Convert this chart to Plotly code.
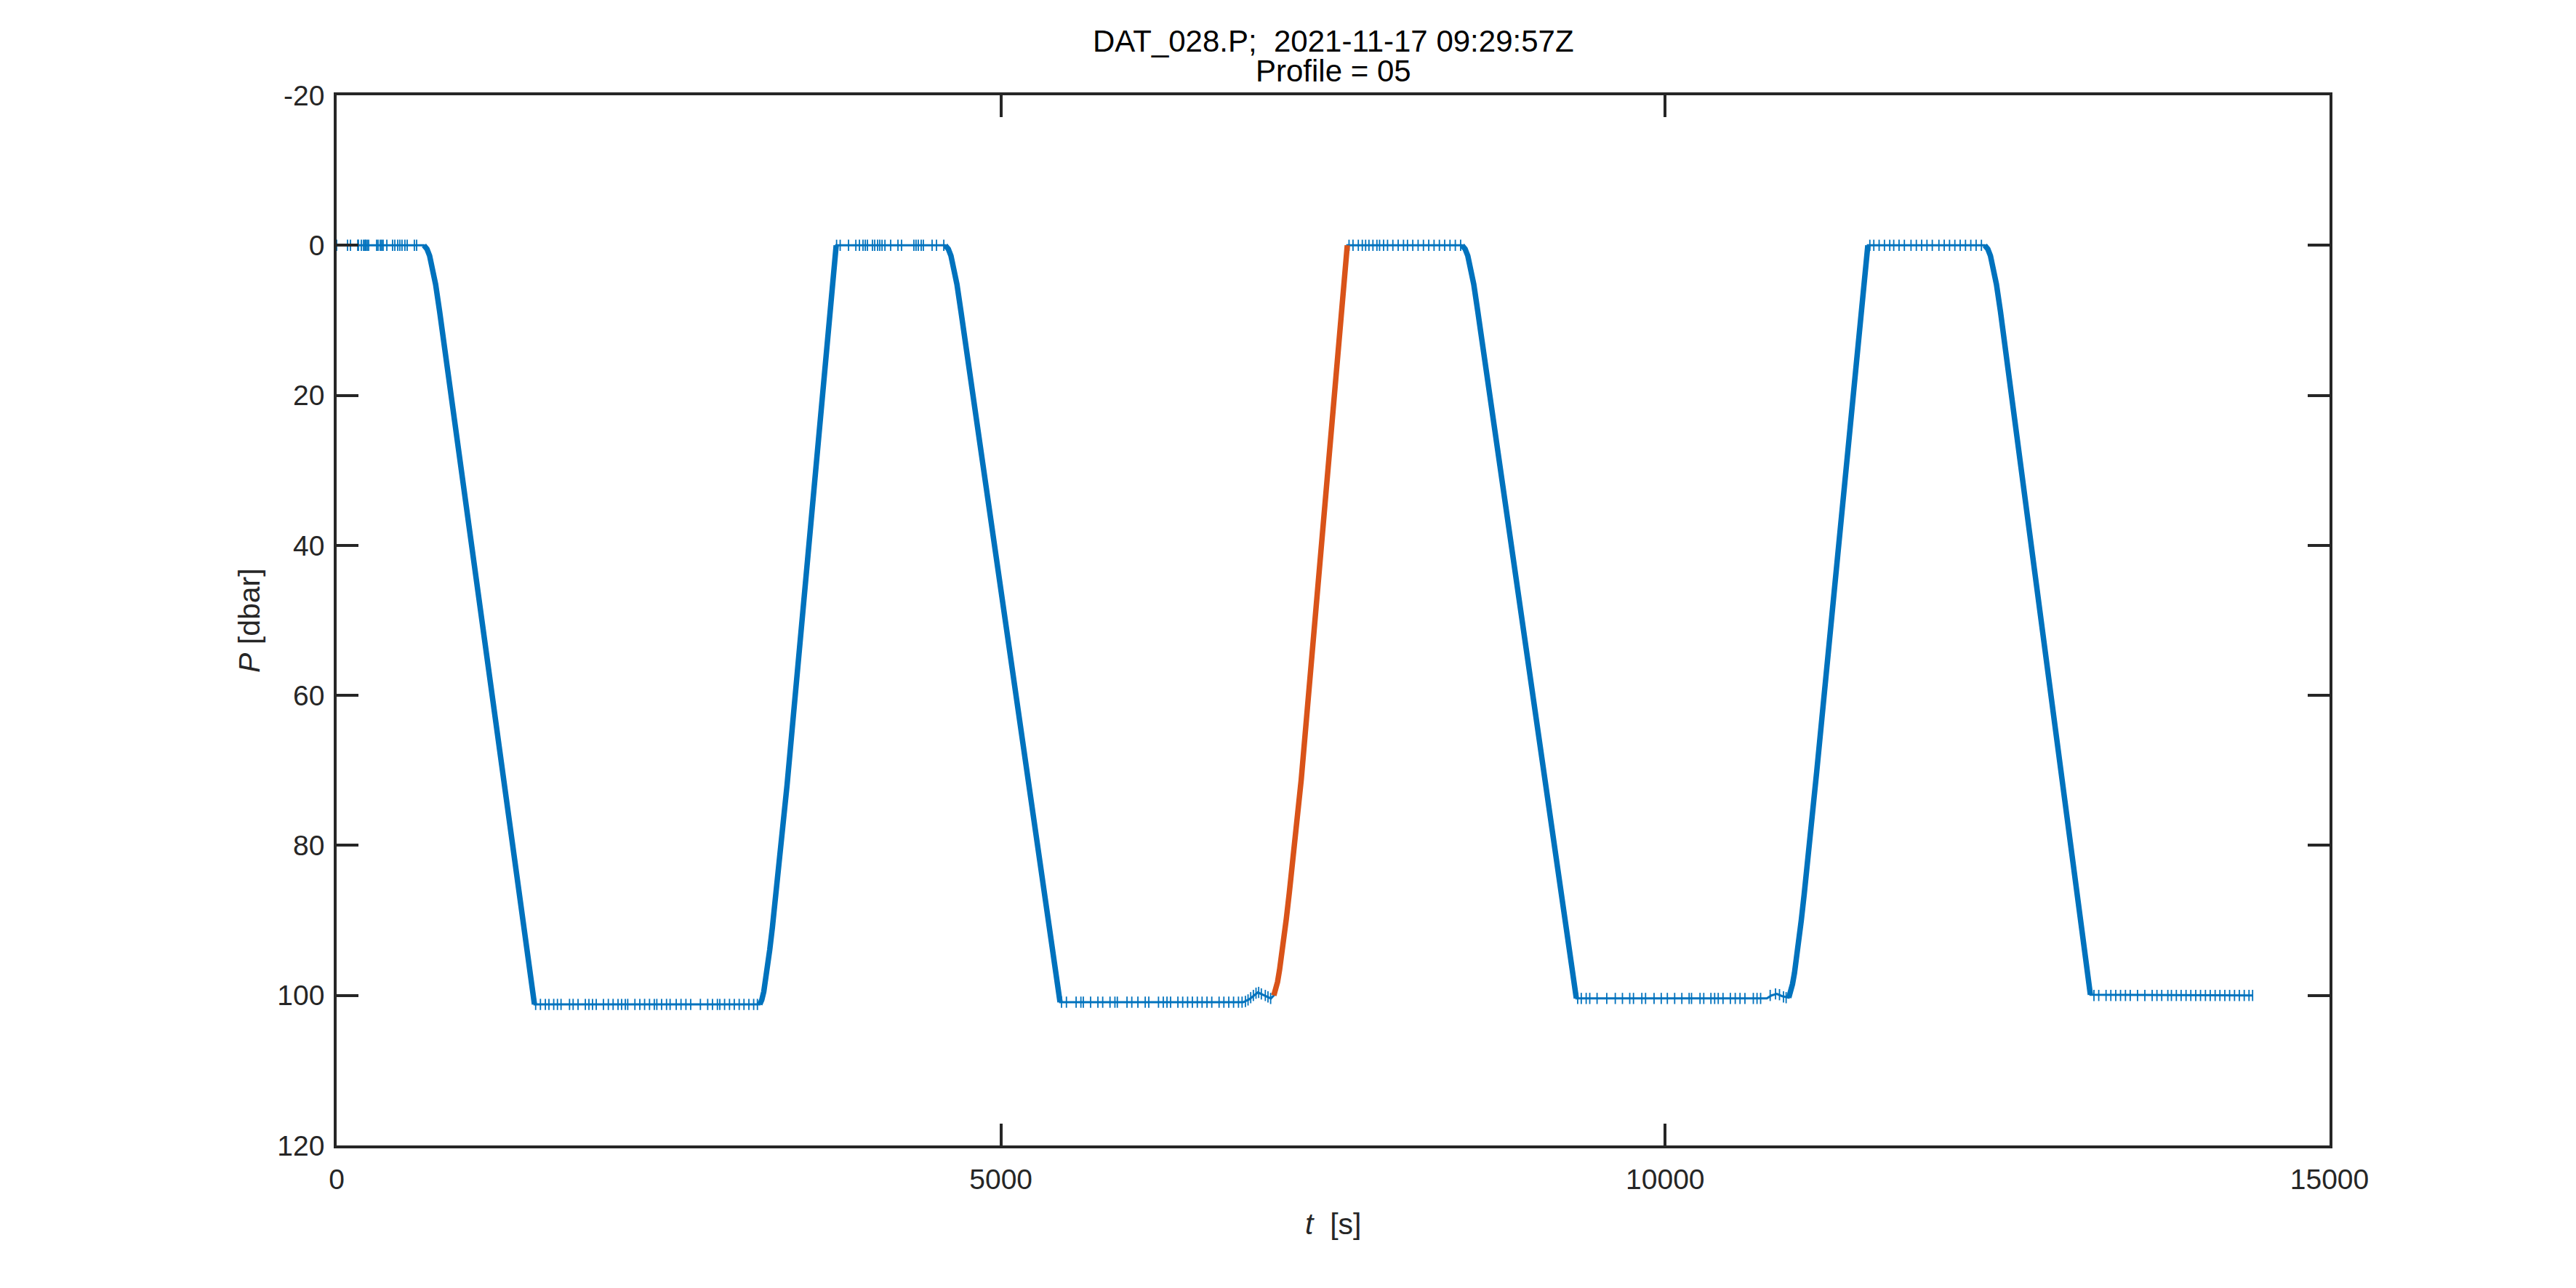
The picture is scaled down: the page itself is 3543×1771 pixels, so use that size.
import plotly.graph_objects as go

# pressure record, breakpoints
t_raw = [0, 657, 680, 700, 720, 745, 775, 1489,
         3185, 3200, 3215, 3230, 3245, 3260, 3280, 3300, 3325, 3355, 3390, 3760,
         4581, 4604, 4624, 4644, 4669, 4699, 5445,
         6824, 6870, 6934, 6980, 7032,
         7054, 7068, 7082, 7097, 7112, 7128, 7148, 7170, 7195, 7225, 7260, 7607,
         8471, 8494, 8514, 8534, 8559, 8589, 9331,
         10765, 10800, 10840, 10880,
         10930, 10944, 10958, 10973, 10988, 11004, 11024, 11046, 11072, 11102,
         11140, 11525,
         12405, 12428, 12448, 12468, 12493, 12523, 13200, 14420]
p_raw = [0.0, 0.0, 0.5, 1.4, 2.8, 5.2, 8.8, 101.2,
         101.2, 100.6, 99.5, 97.9, 96.0, 93.9, 90.9, 87.7, 83.5, 78.3, 72.0, 0.0,
         0.0, 0.5, 1.4, 2.8, 5.2, 8.8, 100.9,
         100.9, 100.5, 99.6, 100.0, 100.4,
         100.0, 99.3, 98.2, 96.6, 94.8, 92.7, 89.8, 86.4, 82.4, 77.4, 71.3, 0.0,
         0.0, 0.5, 1.4, 2.8, 5.2, 8.8, 100.4,
         100.4, 100.0, 99.8, 100.1,
         100.3, 99.6, 98.5, 97.0, 95.2, 93.0, 90.0, 86.5, 82.2, 77.0,
         70.2, 0.0,
         0.0, 0.5, 1.4, 2.8, 5.2, 8.8, 99.9, 100.0]

# profiles (start, end) in seconds; the highlighted one is Profile 05
profile_start = [657, 3185, 4581, 7054, 8471, 10930, 12405]
profile_end = [1489, 3760, 5445, 7607, 9331, 11525, 13200]
highlight = 3

# noise spikes on the plateaus
top1_t = [0, 82, 104, 159, 164, 186, 202, 213, 219, 230, 241, 301, 312, 328,
          339, 350, 378, 421, 438, 460, 476, 492, 514, 531, 585, 602]
top2_t = [3763, 3790, 3853, 3908, 3935, 3962, 3979, 3995, 4033, 4050, 4072,
          4088, 4105, 4127, 4170, 4225, 4252, 4345, 4361, 4378, 4400, 4416,
          4482, 4515, 4570]
top3_t = [7620, 7650, 7690, 7720, 7745, 7770, 7800, 7830, 7850, 7880, 7910,
          7950, 7990, 8030, 8060, 8100, 8140, 8180, 8220, 8260, 8300, 8340,
          8380, 8420, 8460]
top4_t = [11540, 11570, 11610, 11650, 11690, 11720, 11760, 11800, 11850,
          11890, 11930, 11970, 12010, 12060, 12100, 12140, 12180, 12220,
          12260, 12300, 12340, 12380]
bot1_t = [1498, 1534, 1571, 1598, 1634, 1662, 1689, 1753, 1780, 1817, 1872,
          1899, 1926, 1954, 2008, 2045, 2081, 2118, 2145, 2173, 2191, 2245,
          2282, 2318, 2355, 2391, 2410, 2446, 2483, 2510, 2556, 2592, 2629,
          2665, 2738, 2793, 2829, 2866, 2884, 2920, 2957, 2993, 3030, 3066,
          3103, 3139, 3167]
bot2_t = [5456, 5493, 5566, 5602, 5620, 5675, 5730, 5766, 5821, 5858, 5876,
          5949, 5985, 6031, 6086, 6113, 6186, 6222, 6250, 6277, 6332, 6368,
          6405, 6441, 6478, 6514, 6551, 6587, 6642, 6678, 6715, 6751, 6788,
          6815]
bot3_t = [9341, 9368, 9405, 9432, 9487, 9560, 9624, 9678, 9733, 9761, 9824,
          9852, 9916, 9970, 10016, 10071, 10125, 10180, 10198, 10262, 10290,
          10344, 10372, 10399, 10435, 10490, 10527, 10563, 10600, 10663,
          10691, 10718]
bot4_t = [13227, 13263, 13318, 13354, 13391, 13427, 13464, 13500, 13555,
          13610, 13665, 13701, 13737, 13783, 13810, 13847, 13883, 13920,
          13956, 13993, 14029, 14066, 14102, 14139, 14175, 14212, 14248,
          14285, 14321, 14358, 14394, 14421]
plateau_level = [0.0, 0.0, 0.0, 0.0, 101.2, 100.9, 100.4, 100.0]
bump_t = [6840, 6860, 6880, 6900, 6920, 6940, 6960, 6990, 7010, 7030,
          10790, 10830, 10860, 10890, 10910]
bump_p = [100.8, 100.6, 100.3, 100.0, 99.7, 99.6, 99.8, 100.0, 100.2, 100.4,
          100.0, 99.8, 99.9, 100.2, 100.3]

x_ticks = [0, 5000, 10000, 15000]
y_ticks = [-20, 0, 20, 40, 60, 80, 100, 120]

BLUE = "#0072BD"
ORANGE = "#D95319"
INK = "#262626"
FONT = "Liberation Sans, Arial, Helvetica, sans-serif"

fig = go.Figure()

fig.add_trace(go.Scatter(x=t_raw, y=p_raw, mode="lines",
                         line=dict(color=BLUE, width=3), hoverinfo="skip"))

mark_t, mark_p = [], []
for times, level in zip([top1_t, top2_t, top3_t, top4_t, bot1_t, bot2_t, bot3_t, bot4_t],
                        plateau_level):
    mark_t += times
    mark_p += [level] * len(times)
mark_t += bump_t
mark_p += bump_p
fig.add_trace(go.Scatter(x=mark_t, y=mark_p, mode="markers",
                         marker=dict(symbol="line-ns", size=11, color=BLUE,
                                     line=dict(color=BLUE, width=1.8))))


def segment(i):
    xs, ys = [], []
    for t, p in zip(t_raw, p_raw):
        if profile_start[i] <= t <= profile_end[i]:
            xs.append(t)
            ys.append(p)
    return xs, ys


bx, by = [], []
for i in range(len(profile_start)):
    if i == highlight:
        continue
    xs, ys = segment(i)
    bx += xs + [None]
    by += ys + [None]
fig.add_trace(go.Scatter(x=bx, y=by, mode="lines",
                         line=dict(color=BLUE, width=7.5)))

hx, hy = segment(highlight)
fig.add_trace(go.Scatter(x=hx, y=hy, mode="lines",
                         line=dict(color=ORANGE, width=7.5)))

axis_style = dict(showline=True, linecolor=INK, linewidth=3.5, mirror="ticks",
                  ticks="inside", ticklen=30, tickwidth=3.5, tickcolor=INK,
                  showgrid=False, zeroline=False,
                  tickfont=dict(family=FONT, size=39, color=INK))

fig.update_xaxes(range=[0, 15000], tickvals=x_ticks, ticklabelstandoff=9,
                 ticktext=[str(v) for v in x_ticks], **axis_style)
fig.update_yaxes(range=[120, -20], tickvals=y_ticks, ticklabelstandoff=5,
                 ticktext=[str(v) for v in y_ticks], **axis_style)

ann_font = dict(family=FONT, size=42, color="#000000")
fig.update_layout(
    width=3527, height=1755,
    margin=dict(l=455, r=331, t=123, b=188),
    paper_bgcolor="white", plot_bgcolor="white",
    showlegend=False,
    annotations=[
        dict(text="DAT_028.P;&nbsp; 2021-11-17 09:29:57Z", x=0.5, y=1.0519,
             xref="paper", yref="paper", xanchor="center", yanchor="middle",
             showarrow=False, font=ann_font),
        dict(text="Profile = 05", x=0.5, y=1.0235,
             xref="paper", yref="paper", xanchor="center", yanchor="middle",
             showarrow=False, font=ann_font),
        dict(text="<i>t</i>&nbsp; [s]", x=0.5, y=-0.0748,
             xref="paper", yref="paper", xanchor="center", yanchor="middle",
             showarrow=False, font=dict(family=FONT, size=41, color=INK)),
        dict(text="<i>P</i> [dbar]", x=-0.0438, y=0.5, textangle=-90,
             xref="paper", yref="paper", xanchor="center", yanchor="middle",
             showarrow=False, font=dict(family=FONT, size=41, color=INK)),
    ],
)

fig.write_html("out.html")
